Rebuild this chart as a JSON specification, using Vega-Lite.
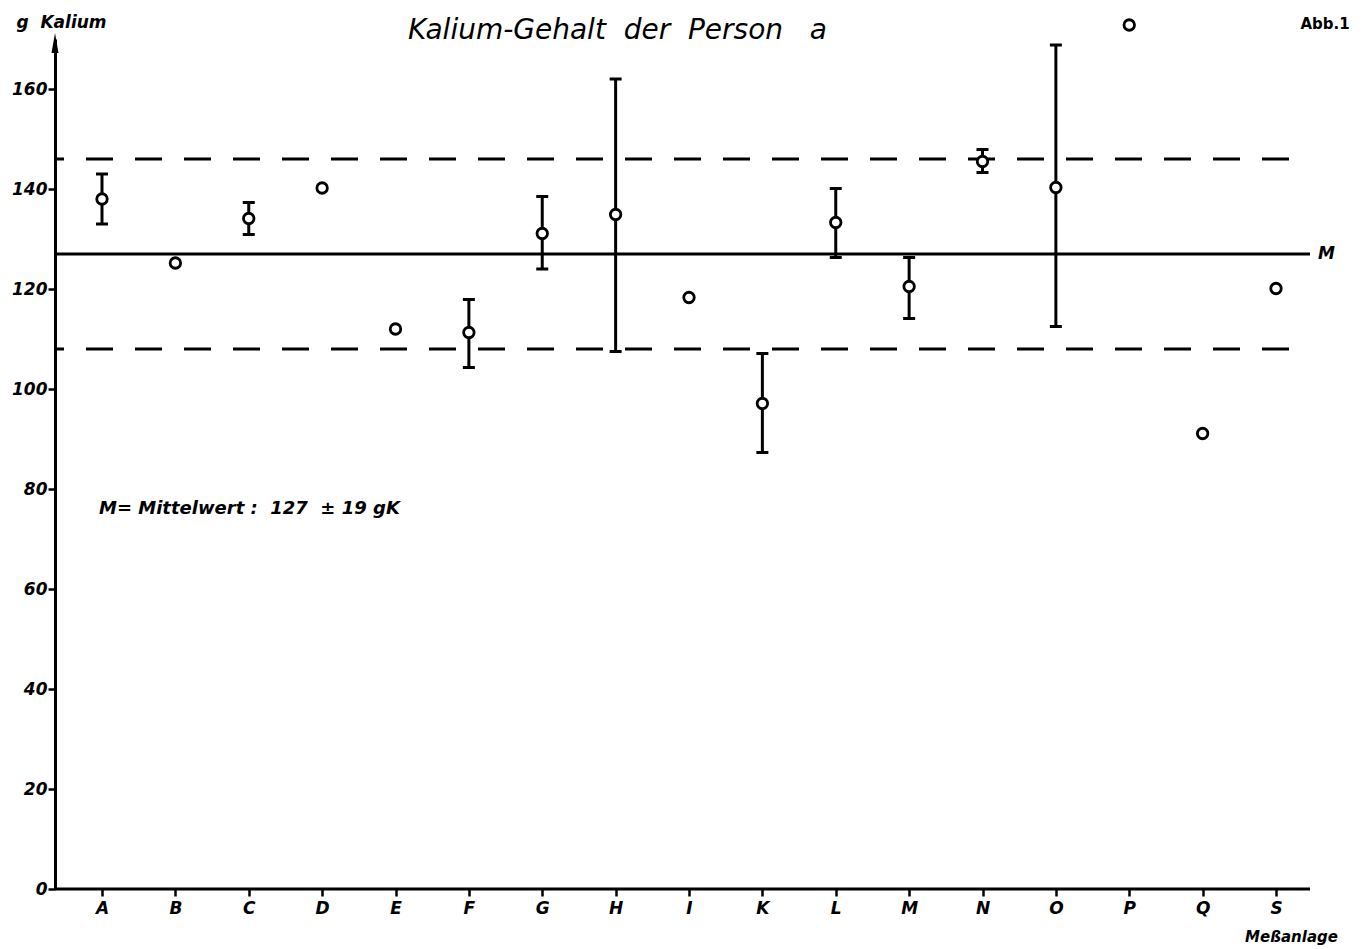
{
  "$schema": "https://vega.github.io/schema/vega-lite/v6.json",
  "width": 1255,
  "height": 850,
  "autosize": {"type": "none"},
  "padding": {"left": 55, "top": 39, "right": 57, "bottom": 60},
  "background": "white",
  "title": {
    "text": "Kalium-Gehalt\u00a0\u00a0der\u00a0\u00a0Person\u00a0\u00a0\u00a0a",
    "anchor": "middle",
    "frame": "group",
    "dx": -65,
    "dy": 36,
    "font": "DejaVu Sans",
    "fontSize": 28,
    "fontStyle": "italic",
    "fontWeight": 500,
    "color": "black"
  },
  "config": {
    "view": {"stroke": null},
    "font": "DejaVu Sans",
    "axis": {
      "grid": false,
      "domainColor": "black",
      "domainWidth": 3,
      "ticks": true,
      "tickColor": "black",
      "tickWidth": 2.5,
      "tickSize": 7,
      "labelColor": "black",
      "labelFont": "DejaVu Sans",
      "labelFontSize": 17,
      "labelFontStyle": "italic",
      "labelFontWeight": "bold",
      "titleColor": "black",
      "titleFont": "DejaVu Sans",
      "titleFontStyle": "italic",
      "titleFontWeight": "bold"
    }
  },
  "data": {
    "values": [
      {"anlage": "A", "wert": 138.0, "lo": 133.0, "hi": 143.0},
      {"anlage": "B", "wert": 125.2},
      {"anlage": "C", "wert": 134.1, "lo": 130.9, "hi": 137.3},
      {"anlage": "D", "wert": 140.2},
      {"anlage": "E", "wert": 112.0},
      {"anlage": "F", "wert": 111.3, "lo": 104.3, "hi": 117.9},
      {"anlage": "G", "wert": 131.1, "lo": 124.0, "hi": 138.5},
      {"anlage": "H", "wert": 134.9, "lo": 107.5, "hi": 162.0},
      {"anlage": "I", "wert": 118.3},
      {"anlage": "K", "wert": 97.1, "lo": 87.3, "hi": 107.1},
      {"anlage": "L", "wert": 133.3, "lo": 126.3, "hi": 140.1},
      {"anlage": "M", "wert": 120.5, "lo": 114.1, "hi": 126.3},
      {"anlage": "N", "wert": 145.5, "lo": 143.3, "hi": 147.9},
      {"anlage": "O", "wert": 140.3, "lo": 112.5, "hi": 168.8},
      {"anlage": "P", "wert": 172.8},
      {"anlage": "Q", "wert": 91.1},
      {"anlage": "S", "wert": 120.1}
    ]
  },
  "encoding": {
    "x": {
      "field": "anlage",
      "type": "ordinal",
      "scale": {
        "type": "point",
        "domain": ["A", "B", "C", "D", "E", "F", "G", "H", "I", "K", "L", "M", "N", "O", "P", "Q", "S"],
        "range": [47, 1221],
        "padding": 0
      },
      "axis": {
        "title": "Meßanlage",
        "domain": false,
        "ticks": true,
        "labelAngle": 0,
        "labelPadding": 4,
        "titleFontSize": 15,
        "titleX": 1236,
        "titleY": 52,
        "titleAlign": "center",
        "titleBaseline": "alphabetic"
      }
    }
  },
  "layer": [
    {
      "data": {"values": [{}]},
      "mark": {"type": "rule", "color": "black", "strokeWidth": 3},
      "encoding": {
        "x": null,
        "y": {
          "datum": 0,
          "type": "quantitative",
          "scale": {"domain": [0, 170], "nice": false, "zero": true},
          "axis": {
            "title": "g\u00a0\u00a0Kalium",
            "values": [0, 20, 40, 60, 80, 100, 120, 140, 160],
            "labelPadding": 1,
            "titleFontSize": 17,
            "titleAngle": 0,
            "titleX": 6,
            "titleY": -12,
            "titleAlign": "center",
            "titleBaseline": "alphabetic"
          }
        }
      }
    },
    {
      "data": {"values": [{}]},
      "mark": {"type": "rule", "color": "black", "strokeWidth": 3},
      "encoding": {"x": null, "y": {"datum": 127, "type": "quantitative"}}
    },
    {
      "data": {"values": [{}]},
      "mark": {"type": "rule", "color": "black", "strokeWidth": 3, "strokeDash": [27, 22], "strokeDashOffset": 28},
      "encoding": {"x": null, "y": {"datum": 146, "type": "quantitative"}}
    },
    {
      "data": {"values": [{}]},
      "mark": {"type": "rule", "color": "black", "strokeWidth": 3, "strokeDash": [27, 22], "strokeDashOffset": 28},
      "encoding": {"x": null, "y": {"datum": 108, "type": "quantitative"}}
    },
    {
      "transform": [{"filter": "isValid(datum.lo)"}],
      "mark": {"type": "rule", "color": "black", "strokeWidth": 3},
      "encoding": {
        "y": {"field": "lo", "type": "quantitative"},
        "y2": {"field": "hi"}
      }
    },
    {
      "transform": [{"filter": "isValid(datum.lo)"}],
      "mark": {"type": "tick", "color": "black", "orient": "horizontal", "size": 12, "thickness": 3, "opacity": 1},
      "encoding": {"y": {"field": "lo", "type": "quantitative"}}
    },
    {
      "transform": [{"filter": "isValid(datum.hi)"}],
      "mark": {"type": "tick", "color": "black", "orient": "horizontal", "size": 12, "thickness": 3, "opacity": 1},
      "encoding": {"y": {"field": "hi", "type": "quantitative"}}
    },
    {
      "mark": {"type": "point", "shape": "circle", "size": 110, "filled": false, "fill": "white", "fillOpacity": 1, "stroke": "black", "strokeWidth": 2.8, "opacity": 1},
      "encoding": {"y": {"field": "wert", "type": "quantitative"}}
    },
    {
      "data": {"values": [{}]},
      "mark": {"type": "point", "shape": "M0,-1L0.35,1L-0.35,1Z", "size": 400, "filled": true, "color": "black", "opacity": 1},
      "encoding": {"x": {"value": 0}, "y": {"datum": 169.2, "type": "quantitative"}}
    },
    {
      "data": {"values": [{}]},
      "mark": {"type": "text", "align": "left", "baseline": "middle", "dx": 42, "fontSize": 17, "fontStyle": "italic", "fontWeight": "bold", "color": "black", "text": "M"},
      "encoding": {"x": {"datum": "S"}, "y": {"datum": 127, "type": "quantitative"}}
    },
    {
      "data": {"values": [{}]},
      "mark": {"type": "text", "align": "left", "baseline": "middle", "dx": -3, "fontSize": 18, "fontStyle": "italic", "fontWeight": "bold", "color": "black", "text": "M=\u00a0Mittelwert\u00a0:\u00a0\u00a0127\u00a0\u00a0±\u00a019\u00a0gK"},
      "encoding": {"x": {"datum": "A"}, "y": {"datum": 76, "type": "quantitative"}}
    },
    {
      "data": {"values": [{}]},
      "mark": {"type": "text", "align": "center", "baseline": "alphabetic", "dx": 49, "dy": -10, "fontSize": 15, "fontWeight": "bold", "color": "black", "text": "Abb.1"},
      "encoding": {"x": {"datum": "S"}, "y": {"datum": 170, "type": "quantitative"}}
    }
  ]
}
